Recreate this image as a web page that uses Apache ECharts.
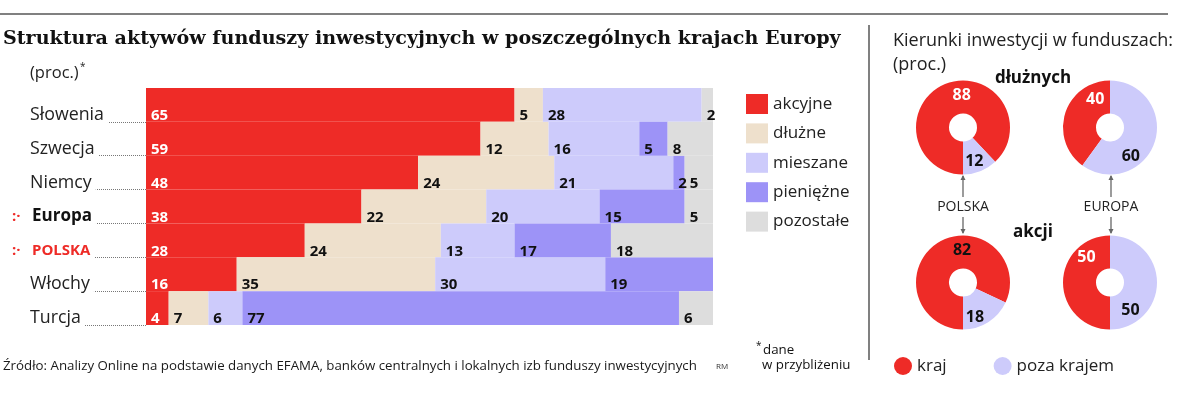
<!DOCTYPE html>
<html>
<head>
<meta charset="utf-8">
<script src="https://cdn.jsdelivr.net/npm/echarts@6/dist/echarts.min.js"></script>
<style>
html,body{margin:0;padding:0;background:#fff;}
#chart{width:1200px;height:394px;}
</style>
</head>
<body>
<div id="chart"></div>
<script>
// ---- data ----
const categories = ['Słowenia', 'Szwecja', 'Niemcy', 'Europa', 'POLSKA', 'Włochy', 'Turcja'];
const seriesNames = ['akcyjne', 'dłużne', 'mieszane', 'pieniężne', 'pozostałe'];
const akcyjne   = [65, 59, 48, 38, 28, 16, 4];
const dluzne    = [5, 12, 24, 22, 24, 35, 7];
const mieszane  = [28, 16, 21, 20, 13, 30, 6];
const pieniezne = [0, 5, 2, 15, 17, 19, 77];
const pozostale = [2, 8, 5, 5, 18, 0, 6];

const pieNames = ['kraj', 'poza krajem'];
const polskaDluzne = [88, 12];
const europaDluzne = [40, 60];
const polskaAkcji  = [82, 18];
const europaAkcji  = [50, 50];

// ---- styles ----
const RED = '#ee2b27', BEIGE = '#eee0cc', LAV = '#cdcbfb', PURPLE = '#9d93f7', GREY = '#dddddd';
const FONT = '"Open Sans", "DejaVu Sans", sans-serif';
const barColors = [RED, BEIGE, LAV, PURPLE, GREY];
const barData = [akcyjne, dluzne, mieszane, pieniezne, pozostale];

const chart = echarts.init(document.getElementById('chart'), null, {renderer: 'canvas'});

const barSeries = seriesNames.map((name, i) => ({
  name: name,
  type: 'bar',
  stack: 'total',
  barCategoryGap: '0%',
  barWidth: '100%',
  data: barData[i],
  itemStyle: {color: barColors[i]},
  emphasis: {disabled: true},
  label: {
    show: true,
    position: 'insideLeft',
    distance: 5,
    offset: [0, 11],
    fontFamily: FONT,
    fontSize: 15,
    fontWeight: 'bold',
    color: i === 0 ? '#ffffff' : '#111111',
    formatter: p => (p.value ? String(p.value) : '')
  }
}));

function pie(center, startAngle, values, labelColors, shifts) {
  return {
    type: 'pie',
    center: center,
    radius: [14, 47],
    startAngle: startAngle,
    clockwise: true,
    silent: true,
    emphasis: {disabled: true},
    labelLine: {show: false},
    label: {
      show: true, position: 'inside', fontFamily: FONT, fontSize: 16, fontWeight: 'bold',
      formatter: p => String(p.value)
    },
    labelLayout: p => ({dx: shifts[p.dataIndex][0], dy: shifts[p.dataIndex][1]}),
    data: values.map((v, i) => ({
      name: pieNames[i],
      value: v,
      itemStyle: {color: i === 0 ? RED : LAV},
      label: {color: labelColors[i]}
    }))
  };
}

const pieSeries = [
  pie([963, 127.5], -90, polskaDluzne, ['#fff', '#111'], [[11, -1], [-1, 3]]),
  pie([1110, 127.5], -126, europaDluzne, ['#fff', '#111'], [[17, -18], [-11, 19]]),
  pie([963, 282.5], -90, polskaAkcji, ['#111', '#111'], [[17, -4], [-6, 7]]),
  pie([1110, 282.5], -90, europaAkcji, ['#fff', '#111'], [[10, -25], [-13, 28]])
];

function txt(x, y, text, style) {
  return {type: 'text', x: x, y: y, silent: true,
    style: Object.assign({text: text, fontFamily: FONT, fontSize: 17, fill: '#222',
      textAlign: 'left', textVerticalAlign: 'middle'}, style || {})};
}
function arrow(x, y1, y2) {
  const dir = y2 > y1 ? 1 : -1;
  return [
    {type: 'line', silent: true, shape: {x1: x, y1: y1, x2: x, y2: y2}, style: {stroke: '#666', lineWidth: 1.3}},
    {type: 'polygon', silent: true, shape: {points: [[x - 2.5, y2 - dir * 4], [x + 2.5, y2 - dir * 4], [x, y2 + dir * 1]]}, style: {fill: '#666'}}
  ];
}

const graphics = [
  {type: 'line', silent: true, shape: {x1: 0, y1: 14, x2: 1168, y2: 14}, style: {stroke: '#808080', lineWidth: 2}},
  {type: 'line', silent: true, shape: {x1: 869, y1: 25, x2: 869, y2: 360}, style: {stroke: '#808080', lineWidth: 2}},
  txt(3, 39, 'Struktura aktywów funduszy inwestycyjnych w poszczególnych krajach Europy',
      {fontFamily: '"DejaVu Serif", serif', fontWeight: 'bold', fontSize: 19.1, fill: '#111'}),
  txt(30, 73, '(proc.)', {fontSize: 16.5}),
  txt(80, 67, '*', {fontSize: 10}),
  txt(3, 366, 'Źródło: Analizy Online na podstawie danych EFAMA, banków centralnych i lokalnych izb funduszy inwestycyjnych',
      {fontSize: 13.3, fill: '#1a1a1a'}),
  txt(716, 367, 'RM', {fontSize: 8, fill: '#333'}),
  txt(756, 346, '*', {fontSize: 10, fill: '#111'}),
  txt(763, 350, 'dane', {fontSize: 13.3, fill: '#111'}),
  txt(762, 365, 'w przybliżeniu', {fontSize: 13.3, fill: '#111'}),
  txt(893, 41, 'Kierunki inwestycji w funduszach:', {fontSize: 18}),
  txt(893, 65, '(proc.)', {fontSize: 18}),
  txt(1033, 78, 'dłużnych', {fontSize: 17, fontWeight: 'bold', fill: '#111', textAlign: 'center'}),
  txt(1033, 232, 'akcji', {fontSize: 17, fontWeight: 'bold', fill: '#111', textAlign: 'center'}),
  txt(963, 207, 'POLSKA', {fontSize: 14, textAlign: 'center'}),
  txt(1111, 207, 'EUROPA', {fontSize: 14, textAlign: 'center'})
].concat(arrow(963, 197, 176), arrow(963, 217, 233), arrow(1111, 197, 176), arrow(1111, 217, 233));

const option = {
  animation: false,
  backgroundColor: '#ffffff',
  textStyle: {fontFamily: FONT},
  grid: {left: 146, top: 88, width: 567, height: 237, containLabel: false},
  xAxis: {type: 'value', min: 0, max: 100, show: false},
  yAxis: {
    type: 'category',
    inverse: true,
    data: categories,
    axisLine: {show: false},
    axisTick: {
      show: true, length: 114,
      interval: (idx) => idx > 0,
      lineStyle: {type: 'dotted', color: '#777', width: 1}
    },
    axisLabel: {
      margin: 134,
      align: 'left',
      verticalAlign: 'top',
      backgroundColor: '#fff',
      padding: [0, 4, 0, 0],
      formatter: v => {
        if (v === 'Europa') return '{mk|:·}{b|' + v + '}';
        if (v === 'POLSKA') return '{mk|:·}{r|' + v + '}';
        return '{sp|}{n|' + v + '}';
      },
      rich: {
        sp: {width: 18, lineHeight: 20},
        mk: {width: 20, fontSize: 15, fontWeight: 'bold', color: RED, fontFamily: FONT, lineHeight: 20},
        n: {fontSize: 17.8, color: '#222', fontFamily: FONT, lineHeight: 20},
        b: {fontSize: 17, fontWeight: 'bold', color: '#111', fontFamily: FONT, lineHeight: 20},
        r: {fontSize: 15, fontWeight: 'bold', color: RED, fontFamily: FONT, lineHeight: 20}
      }
    }
  },
  legend: [
    {
      data: seriesNames,
      orient: 'vertical',
      left: 741, top: 89,
      itemWidth: 22, itemHeight: 20, itemGap: 9.4,
      icon: 'rect',
      selectedMode: false,
      textStyle: {fontFamily: FONT, fontSize: 17, color: '#222', lineHeight: 20}
    },
    {
      data: pieNames,
      orient: 'horizontal',
      left: 889, top: 352,
      itemWidth: 18, itemHeight: 18, itemGap: 47,
      icon: 'circle',
      selectedMode: false,
      textStyle: {fontFamily: FONT, fontSize: 17, color: '#222'}
    }
  ],
  series: barSeries.concat(pieSeries),
  graphic: graphics
};
chart.setOption(option);
</script>
</body>
</html>
